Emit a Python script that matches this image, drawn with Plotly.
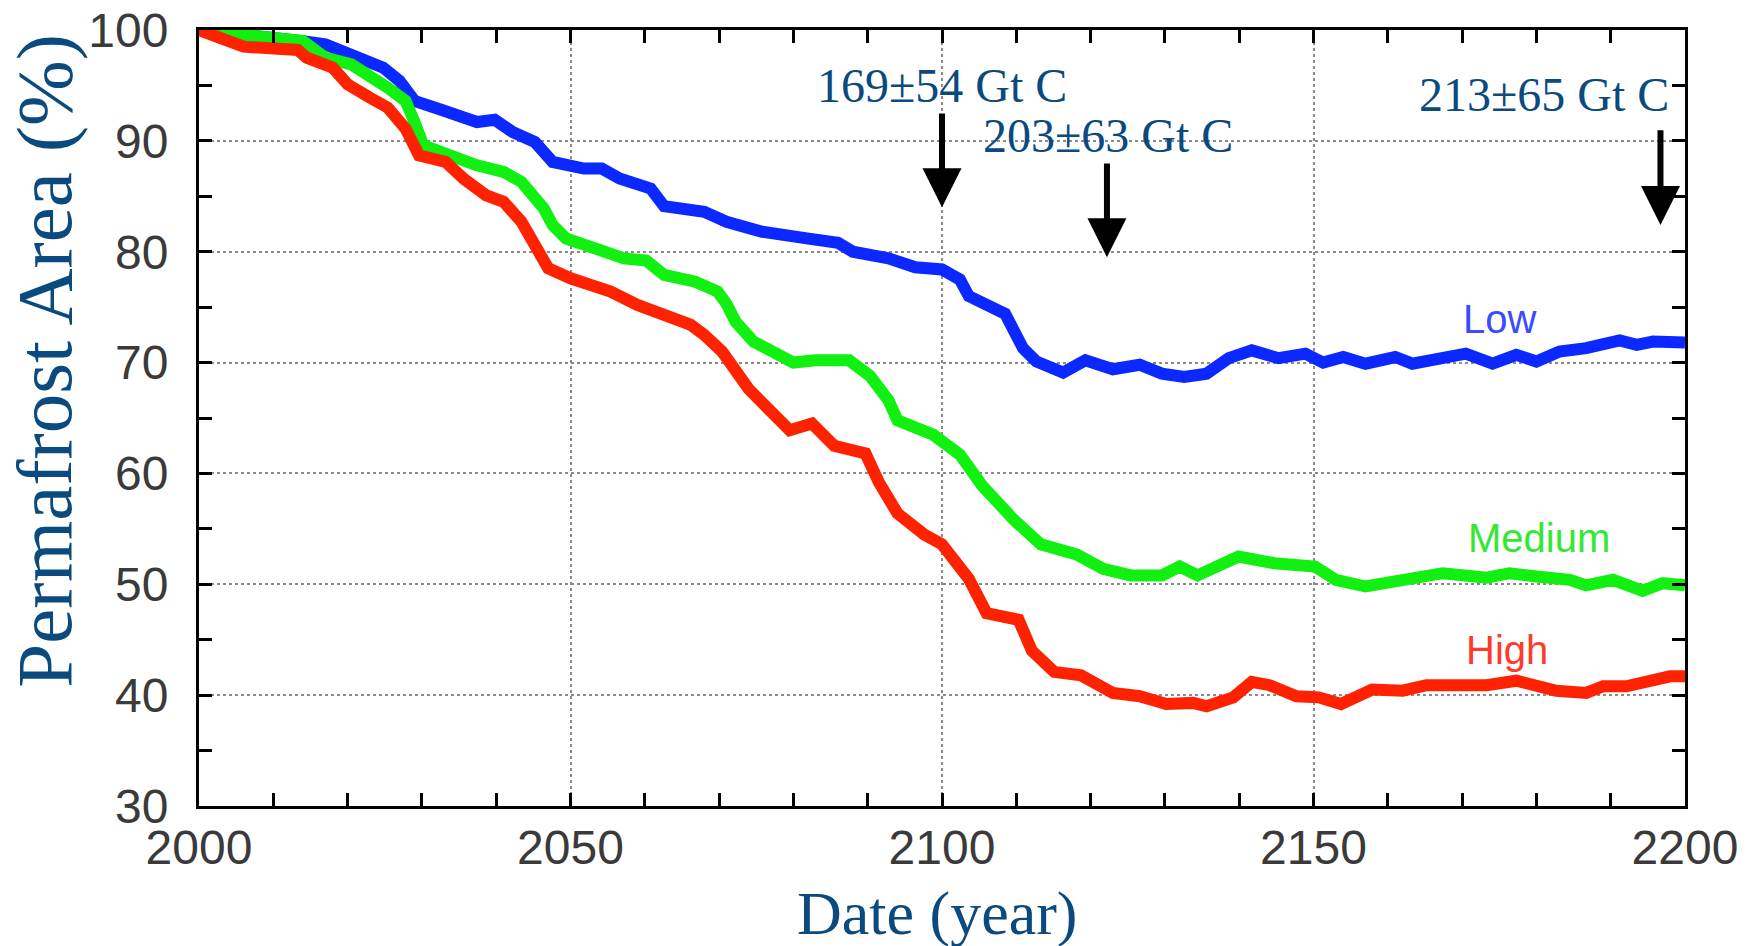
import plotly.graph_objects as go

# ---- data ----
low_years = [2000, 2007, 2014, 2017, 2020.5, 2024.8, 2027, 2029, 2032.6, 2037.4, 2039.8, 2042.2, 2045.2, 2047.6,
             2051.8, 2054.2, 2056.6, 2060.8, 2062.6, 2068, 2071, 2075.8, 2081.8, 2086, 2088, 2092.8, 2096.4,
             2100, 2102.4, 2103.6, 2108.5, 2110.9, 2112.7, 2116.3, 2119.3, 2123, 2126.6, 2129.6, 2132.6,
             2135.6, 2138.6, 2141.7, 2145.3, 2148.9, 2151.3, 2154, 2157, 2161, 2163.3, 2167.4, 2170.5,
             2174.1, 2177.3, 2180, 2183.1, 2186.7, 2191.2, 2193.5, 2195.7, 2200]
low_vals = [100, 99.6, 99.0, 98.7, 97.8, 96.6, 95.4, 93.6, 92.8, 91.7, 91.9, 90.8, 89.9, 88.1,
            87.5, 87.5, 86.6, 85.7, 84.1, 83.6, 82.7, 81.8, 81.2, 80.8, 80.0, 79.4, 78.6,
            78.4, 77.5, 76.0, 74.4, 71.3, 70.1, 69.1, 70.2, 69.4, 69.8, 69.0, 68.7,
            69.0, 70.4, 71.1, 70.4, 70.8, 70.0, 70.5, 69.9, 70.5, 69.9, 70.4, 70.8,
            69.9, 70.7, 70.1, 71.0, 71.3, 72.0, 71.6, 71.9, 71.8]

med_years = [2000, 2006, 2014, 2017, 2020.5, 2025.4, 2027.8, 2029, 2030.2, 2033.8, 2037.4, 2041, 2043.4,
             2046.4, 2047.6, 2049.4, 2053, 2057.2, 2060.2, 2062.6, 2066.8, 2069.8, 2071, 2072.2, 2074.6,
             2080, 2083, 2087.5, 2090.3, 2092.8, 2094, 2098.8, 2102.4, 2105.4, 2109.7, 2113.3, 2118.1,
             2121.7, 2125.4, 2129.6, 2132, 2134.4, 2139.9, 2144.7, 2150.2, 2153, 2157, 2160.2, 2164.2,
             2167.4, 2173.3, 2176.4, 2180, 2184.5, 2186.7, 2190.3, 2194.3, 2197, 2200]
med_vals = [100, 99.5, 99.0, 97.5, 96.9, 94.8, 93.6, 91.7, 89.6, 88.7, 87.8, 87.2, 86.3,
            83.9, 82.4, 81.2, 80.3, 79.4, 79.2, 77.9, 77.3, 76.4, 75.3, 73.7, 71.9,
            70.0, 70.2, 70.2, 68.8, 66.6, 64.8, 63.5, 61.7, 58.9, 55.8, 53.6, 52.7,
            51.4, 50.8, 50.8, 51.6, 50.8, 52.5, 51.9, 51.6, 50.4, 49.8, 50.2, 50.7,
            51.0, 50.6, 51.0, 50.7, 50.4, 49.9, 50.4, 49.4, 50.1, 49.9]

high_years = [2000, 2002.5, 2006, 2013.3, 2014.5, 2018, 2020, 2023, 2025.4, 2027.8, 2029.6, 2033.2, 2035.6,
              2038.6, 2041, 2043.4, 2045.2, 2047, 2050, 2055.4, 2059, 2062.6, 2066.2, 2068, 2070.4, 2074,
              2079.5, 2082.5, 2085.5, 2089.7, 2091.5, 2094, 2097.6, 2100, 2103.6, 2106, 2110.3, 2112.1,
              2115.1, 2118.7, 2123, 2126.6, 2130.2, 2133.8, 2135.6, 2139.2, 2141.7, 2144.1, 2147.7, 2150.7,
              2153.7, 2157.9, 2162, 2165.2, 2168.8, 2173.3, 2177.3, 2180, 2182.7, 2186.7, 2189, 2192.1,
              2195.7, 2198, 2200]
high_vals = [100, 99.4, 98.5, 98.2, 97.5, 96.6, 95.1, 93.9, 93.0, 91.1, 88.7, 88.1, 86.6,
             85.1, 84.5, 82.7, 80.3, 78.5, 77.6, 76.4, 75.2, 74.3, 73.4, 72.5, 71.0, 67.6,
             63.9, 64.5, 62.5, 61.8, 59.2, 56.4, 54.5, 53.6, 50.5, 47.4, 46.8, 44.0,
             42.1, 41.8, 40.2, 39.9, 39.2, 39.3, 39.0, 39.8, 41.2, 40.9, 39.9, 39.8,
             39.2, 40.5, 40.4, 40.9, 40.8, 40.9, 41.3, 40.8, 40.4, 40.2, 40.8, 40.8,
             41.3, 41.7, 41.7]

series_names = ["Low", "Medium", "High"]
series_colors = ["#0a28ff", "#11f011", "#ff2200"]
label_colors = ["#3a4cff", "#33e833", "#ff3a2a"]
label_x = [2175, 2180.4, 2176]
label_y = [73.9, 54.2, 44.1]

carbon_texts = ["169±54 Gt C", "203±63 Gt C", "213±65 Gt C"]
carbon_text_x = [2100.0, 2122.4, 2181.0]
carbon_text_y = [95.0, 90.5, 94.2]
arrow_x = [2100, 2122.2, 2196.7]
arrow_tail_y = [92.6, 88.1, 91.1]
arrow_tip_y = [84.0, 79.5, 82.4]

x_ticks = [2000, 2050, 2100, 2150, 2200]
y_ticks = [30, 40, 50, 60, 70, 80, 90, 100]

# ---- figure ----
fig = go.Figure()
for yrs, vals, name, col in zip([low_years, med_years, high_years], [low_vals, med_vals, high_vals],
                                series_names, series_colors):
    fig.add_trace(go.Scatter(x=yrs, y=vals, mode="lines", name=name,
                             line=dict(color=col, width=12), showlegend=False))

serif = "Liberation Serif, Times New Roman, serif"
sans = "Liberation Sans, Arial, Helvetica, sans-serif"
title_col = "#0b4a7e"

annotations = []
for name, col, lx, ly in zip(series_names, label_colors, label_x, label_y):
    annotations.append(dict(x=lx, y=ly, xref="x", yref="y", text=name, showarrow=False,
                            font=dict(family=sans, size=40, color=col)))
for t, tx, ty in zip(carbon_texts, carbon_text_x, carbon_text_y):
    annotations.append(dict(x=tx, y=ty, xref="x", yref="y", text=t, showarrow=False,
                            font=dict(family=serif, size=48, color=title_col)))
for ax_, ty, hy in zip(arrow_x, arrow_tail_y, arrow_tip_y):
    annotations.append(dict(x=ax_, y=hy, ax=ax_, ay=ty, xref="x", yref="y", axref="x", ayref="y",
                            text="", showarrow=True, arrowhead=2, arrowsize=1.3, arrowwidth=6,
                            arrowcolor="black", standoff=0))
annotations.append(dict(x=0.497, y=-0.138, xref="paper", yref="paper", text="Date (year)",
                        showarrow=False, font=dict(family=serif, size=62, color=title_col),
                        xanchor="center", yanchor="middle"))
annotations.append(dict(x=-0.1036, y=0.574, xref="paper", yref="paper", text="Permafrost Area (%)",
                        showarrow=False, textangle=-90, font=dict(family=serif, size=79, color=title_col),
                        xanchor="center", yanchor="middle"))

axis_common = dict(showline=True, linecolor="black", linewidth=3, mirror="ticks",
                   ticks="inside", ticklen=13, tickwidth=3, tickcolor="black",
                   showgrid=True, gridcolor="#8a8a8a", gridwidth=2, griddash="dot",
                   zeroline=False, tickfont=dict(family=sans, size=48, color="#3a3a3a"))

fig.update_layout(
    width=1753, height=946,
    margin=dict(l=199, r=68, t=30, b=140, autoexpand=False),
    paper_bgcolor="white", plot_bgcolor="white",
    annotations=annotations,
    xaxis=dict(range=[2000, 2200], tickvals=x_ticks, ticktext=[str(v) for v in x_ticks],
               minor=dict(dtick=10, tick0=2000, ticks="inside", ticklen=13, tickwidth=3,
                          tickcolor="black", showgrid=False),
               ticklabelstandoff=-3, **axis_common),
    yaxis=dict(range=[30, 100], tickvals=y_ticks, ticktext=[str(v) for v in y_ticks],
               minor=dict(dtick=5, tick0=30, ticks="inside", ticklen=13, tickwidth=3,
                          tickcolor="black", showgrid=False),
               ticklabelstandoff=18, **axis_common),
)

fig.write_html("out.html")
